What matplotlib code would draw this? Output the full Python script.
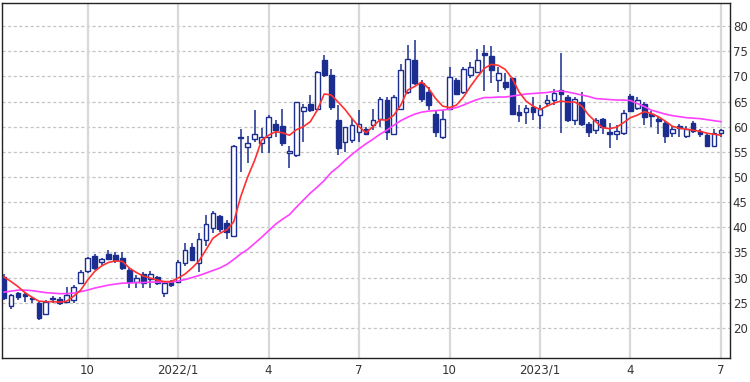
import numpy as np
import matplotlib.pyplot as plt

# weekly OHLC
opens = [30.2, 24.3, 26.9, 26.6, 25.9, 25.0, 22.7, 25.7, 25.8, 25.2, 25.5, 28.9, 31.4,
         34.3, 33.1, 34.6, 34.4, 33.8, 31.5, 29.2, 30.7, 29.7, 30.1, 26.9, 29.2, 29.2,
         32.8, 36.0, 32.8, 37.5, 39.8, 42.3, 40.9, 38.2, 57.8, 56.0, 57.6, 56.7, 58.0,
         60.5, 60.1, 54.7, 54.3, 63.2, 64.6, 63.6, 73.2, 70.2, 61.4, 56.9, 57.3, 59.0,
         59.6, 60.3, 61.6, 65.3, 58.5, 63.6, 66.9, 73.2, 68.6, 66.9, 62.6, 58.0, 63.6,
         69.2, 66.9, 70.2, 70.9, 74.6, 74.0, 69.2, 68.9, 69.6, 62.9, 62.9, 63.9, 62.3,
         64.7, 65.3, 67.3, 65.9, 61.3, 64.9, 60.6, 59.3, 61.5, 58.9, 58.6, 58.8, 66.1,
         63.8, 64.5, 62.6, 61.5, 60.8, 58.7, 60.1, 58.2, 60.8, 59.2, 58.3, 56.2, 58.8]
highs = [30.8, 26.8, 27.2, 27.1, 26.2, 25.2, 25.5, 26.3, 26.1, 28.2, 28.5, 31.5, 34.0,
         34.6, 33.8, 35.5, 35.0, 35.0, 31.9, 30.5, 31.2, 31.4, 30.3, 29.2, 29.5, 33.5,
         36.8, 36.8, 38.8, 42.5, 43.3, 42.5, 41.5, 56.3, 59.6, 58.1, 63.3, 59.8, 62.3,
         61.3, 63.6, 56.1, 65.0, 64.6, 66.3, 71.0, 74.2, 71.5, 64.3, 60.0, 61.6, 63.3,
         60.0, 63.6, 65.9, 65.9, 66.3, 72.5, 76.2, 77.2, 69.2, 67.9, 63.3, 63.3, 71.9,
         69.6, 71.9, 72.9, 75.5, 76.2, 76.0, 71.9, 70.6, 69.9, 64.3, 64.3, 65.9, 64.3,
         66.3, 67.4, 74.7, 66.3, 65.9, 66.9, 61.0, 61.8, 61.7, 60.8, 60.3, 63.3, 66.5,
         65.9, 65.0, 63.1, 62.0, 61.2, 60.1, 60.5, 60.1, 61.2, 59.5, 58.5, 59.6, 59.6]
lows = [25.5, 23.8, 25.5, 25.2, 25.0, 21.6, 22.5, 25.0, 24.5, 25.0, 24.9, 28.7, 31.0,
        31.5, 32.4, 33.4, 32.9, 31.5, 27.9, 27.9, 27.9, 27.9, 28.5, 26.1, 28.2, 28.9,
        32.2, 33.2, 31.2, 36.2, 38.8, 39.1, 37.6, 38.0, 51.0, 52.7, 57.0, 54.7, 54.7,
        58.0, 56.1, 51.7, 54.0, 57.0, 63.0, 63.6, 69.9, 63.3, 54.3, 55.0, 56.8, 57.0,
        58.3, 59.4, 60.0, 57.3, 58.3, 63.3, 66.6, 68.2, 64.9, 63.3, 58.0, 57.5, 63.3,
        66.3, 66.6, 69.6, 70.6, 67.1, 68.6, 66.9, 67.3, 62.3, 61.0, 60.6, 61.3, 59.6,
        64.0, 64.3, 58.8, 61.0, 60.3, 60.1, 58.0, 58.6, 58.6, 55.8, 57.3, 58.3, 63.0,
        63.3, 60.3, 60.0, 58.6, 56.8, 58.0, 58.0, 57.7, 58.8, 58.0, 56.0, 56.0, 57.9]
closes = [26.0, 26.5, 26.1, 26.4, 25.7, 22.0, 25.2, 25.9, 25.0, 26.5, 28.2, 31.2, 33.8,
          31.8, 33.7, 33.7, 33.4, 31.8, 29.2, 29.9, 28.9, 30.7, 28.9, 28.9, 28.6, 33.0,
          35.5, 33.5, 37.6, 40.7, 42.9, 39.6, 39.1, 56.1, 58.0, 56.7, 58.6, 58.0, 62.0,
          59.4, 56.7, 55.2, 65.0, 64.0, 63.3, 70.9, 70.2, 63.9, 55.7, 59.9, 60.3, 60.6,
          58.6, 61.3, 65.6, 59.0, 65.9, 71.2, 73.5, 68.7, 65.6, 64.3, 59.0, 61.6, 69.9,
          66.5, 71.4, 71.9, 73.3, 74.2, 71.2, 70.6, 67.9, 62.6, 62.3, 63.8, 62.9, 63.6,
          65.3, 66.7, 66.6, 61.3, 65.6, 60.6, 59.0, 61.4, 60.0, 58.6, 59.2, 62.8, 63.1,
          65.3, 62.0, 62.1, 61.2, 58.2, 59.5, 59.8, 59.5, 59.2, 58.6, 56.2, 58.7, 59.3]

# moving averages as drawn (short = red, long = magenta)
ma_short = [30.1, 29.2, 28.2, 27.0, 26.1, 25.3, 25.2, 25.2, 25.1, 25.3, 26.3, 27.5, 29.5,
            31.2, 32.3, 33.0, 33.3, 33.2, 31.9, 31.0, 30.3, 29.9, 29.5, 29.2, 29.2, 29.9,
            30.7, 31.9, 33.3, 35.5, 37.8, 38.8, 39.5, 41.1, 46.1, 50.0, 53.3, 57.3, 58.3,
            59.0, 58.8, 58.3, 59.4, 60.0, 61.0, 63.3, 66.5, 66.3, 64.9, 63.4, 61.6, 60.0,
            58.8, 60.0, 61.4, 61.3, 62.3, 64.3, 67.3, 68.0, 68.9, 67.6, 65.6, 64.1, 63.8,
            64.3, 65.9, 68.0, 69.9, 71.6, 72.4, 72.2, 71.4, 69.6, 66.9, 65.1, 64.1, 63.4,
            64.1, 64.7, 65.1, 64.9, 64.9, 64.1, 62.3, 61.0, 59.8, 59.6, 59.9, 60.8, 61.8,
            62.3, 63.0, 62.6, 62.0, 61.1, 60.1, 59.7, 59.5, 59.3, 59.1, 58.7, 58.5, 58.3]
ma_long = [27.1, 27.3, 27.5, 27.5, 27.4, 27.2, 27.0, 26.9, 26.8, 26.8, 26.9, 27.2, 27.5,
           27.9, 28.2, 28.5, 28.7, 28.9, 28.9, 29.0, 29.0, 29.1, 29.1, 29.1, 29.1, 29.3,
           29.6, 30.0, 30.4, 30.9, 31.4, 31.9, 32.6, 33.6, 34.7, 35.6, 36.8, 38.0, 39.3,
           40.6, 41.6, 42.5, 44.0, 45.4, 46.8, 48.0, 49.3, 50.9, 52.0, 53.3, 54.5, 55.6,
           56.6, 57.5, 58.5, 59.3, 60.3, 61.2, 61.9, 62.5, 62.9, 63.1, 63.2, 63.3, 63.5,
           63.8, 64.3, 64.9, 65.4, 65.8, 65.8, 65.9, 65.9, 66.1, 66.3, 66.5, 66.6, 66.7,
           66.8, 67.0, 67.1, 66.9, 66.6, 66.3, 66.0, 65.6, 65.5, 65.4, 65.3, 65.3, 65.2,
           64.6, 64.0, 63.3, 62.9, 62.5, 62.2, 62.0, 61.8, 61.7, 61.6, 61.4, 61.2, 61.0]

tick_pos = [12, 25, 38, 51, 64, 77, 90, 103]
tick_labels = ['10', '2022/1', '4', '7', '10', '2023/1', '4', '7']
y_ticks = [20, 25, 30, 35, 40, 45, 50, 55, 60, 65, 70, 75, 80]

navy = '#1b2d8f'
o = np.array(opens)
c = np.array(closes)
x = np.arange(len(o))
up = c >= o

fig = plt.figure(figsize=(7.5, 3.82), dpi=100)
ax = fig.add_axes([2 / 750, 24 / 382, 728 / 750, 355 / 382])

# grid
for t in y_ticks:
    ax.axhline(t, color='#c4c4c4', lw=0.9, ls=(0, (2.5, 2)), zorder=0)
for t in tick_pos:
    ax.axvline(t, color='#d8d8d8', lw=1.6, zorder=0)

# wicks
ax.vlines(x, lows, highs, color=navy, lw=1.1, zorder=2)
# bodies
body = np.maximum(np.abs(c - o), 0.25)
bottom = np.minimum(o, c)
ax.bar(x[up], body[up], bottom=bottom[up], width=0.68, facecolor='white',
       edgecolor=navy, linewidth=1.0, zorder=3)
ax.bar(x[~up], body[~up], bottom=bottom[~up], width=0.68, facecolor=navy,
       edgecolor=navy, linewidth=1.0, zorder=3)

ax.plot(x, ma_long, color='#ff40ff', lw=1.2, zorder=4)
ax.plot(x, ma_short, color='#ff3030', lw=1.2, zorder=4)

ax.set_xlim(-0.3, 104.3)
ax.set_ylim(14.0, 84.6)
ax.set_xticks(tick_pos)
ax.set_xticklabels(tick_labels)
ax.set_yticks(y_ticks)
ax.yaxis.tick_right()
ax.tick_params(axis='both', labelsize=8.5, colors='#333333', length=0, pad=4)
ax.tick_params(axis='y', pad=2)
for s in ax.spines.values():
    s.set_color('#222222')
    s.set_linewidth(1.0)

fig.savefig('out.png', dpi=100)
